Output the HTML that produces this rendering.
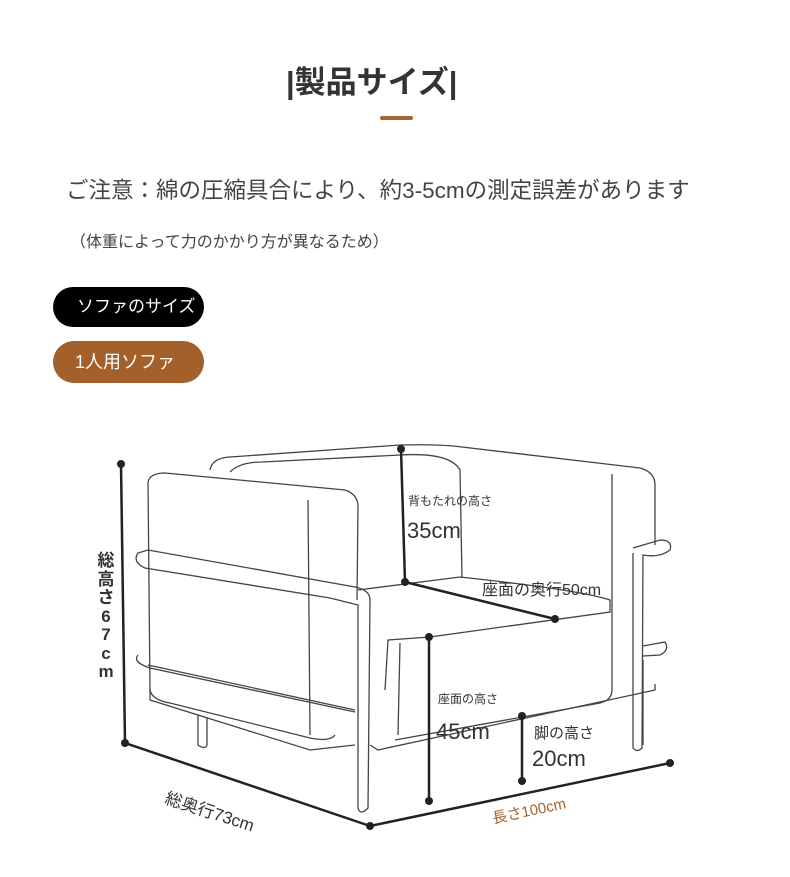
<!DOCTYPE html>
<html><head><meta charset="utf-8"><style>
body{margin:0;background:#fff;width:790px;height:877px;overflow:hidden;position:relative;font-family:"Liberation Sans","Noto Sans CJK JP",sans-serif;color:#333}
.a{position:absolute;white-space:nowrap}
</style></head><body>
<div class="a" style="left:286px;top:57px;font-size:31px;font-weight:bold;color:#333">|製品サイズ|</div>
<div class="a" style="left:380px;top:116px;width:33px;height:4px;background:#a8652f;border-radius:2px"></div>
<div class="a" style="left:66px;top:173px;font-size:22.5px;color:#444">ご注意：綿の圧縮具合により、約3-5cmの測定誤差があります</div>
<div class="a" style="left:70px;top:228px;font-size:16px;color:#444">（体重によって力のかかり方が異なるため）</div>
<div class="a" style="left:53px;top:287px;width:151px;height:40px;border-radius:20px;background:#000;color:#fff;font-size:17px;line-height:40px;"><span style="margin-left:24px">ソファのサイズ</span></div>
<div class="a" style="left:53px;top:341px;width:151px;height:42px;border-radius:21px;background:#a4602a;color:#fff;font-size:18px;line-height:42px;"><span style="margin-left:22px">1人用ソファ</span></div>
<svg class="a" style="left:0;top:0" width="790" height="877" fill="none" stroke="#444" stroke-width="1.3">
<path d="M210,470 Q212,458 230,457 L400,445 Q440,444 462,447 L640,468 Q655,472 655,485 L655,545"/>
<path d="M230,472 Q240,462 262,462 L400,455 Q450,452 460,470 L462,578"/>
<path d="M612,474 L612,612"/>
<path d="M148,482 Q150,473 165,473 L345,490 Q357,494 358,505 L357,600"/>
<path d="M148,482 L150,690 Q152,700 170,703 L310,738 Q330,742 335,735"/>
<path d="M308,500 L310,735"/>
<path d="M358,590 L460,577 Q580,590 610,600 L610,612 L430,637 L388,640 L385,690"/>
<path d="M400,643 L398,735 M612,612 L612,690 Q612,700 600,703 L395,740"/>
<path d="M138,553 Q132,562 145,568 L330,598 L358,605 L358,808 Q360,816 368,808 L370,600 Q370,590 355,587 L148,550 Z"/>
<path d="M138,655 Q132,662 150,668 L355,712"/>
<path d="M148,665 L355,710"/>
<path d="M150,690 L150,700 L310,750 L355,745"/>
<path d="M198,715 L198,745 Q205,750 207,745 L207,718"/>
<path d="M370,745 L378,750 L655,690 L655,684"/>
<path d="M633,553 L633,748 Q637,753 642,748 L643,555 Q660,558 670,550 Q673,540 660,540 L633,548"/>
<path d="M643,646 L665,642 Q670,650 660,655 L643,656"/>
<path d="M643,660 L643,745"/>
</svg>
<svg class="a" style="left:0;top:0" width="790" height="877" stroke="#222" stroke-width="2.5" fill="#222">
<line x1="121" y1="464" x2="125" y2="743"/><line x1="125" y1="743" x2="370" y2="826"/><line x1="370" y1="826" x2="670" y2="763"/>
<line x1="401" y1="449" x2="405" y2="582"/><line x1="405" y1="582" x2="555" y2="619"/>
<line x1="429" y1="637" x2="429" y2="801"/><line x1="522" y1="716" x2="522" y2="781"/>
<g stroke="none">
<circle cx="121" cy="464" r="4"/><circle cx="125" cy="743" r="4"/><circle cx="370" cy="826" r="4"/><circle cx="670" cy="763" r="4"/>
<circle cx="401" cy="449" r="4"/><circle cx="405" cy="582" r="4"/><circle cx="555" cy="619" r="4"/>
<circle cx="429" cy="637" r="4"/><circle cx="429" cy="801" r="4"/><circle cx="522" cy="716" r="4"/><circle cx="522" cy="781" r="4"/>
</g></svg>
<div class="a" style="left:408px;top:492px;font-size:12px">背もたれの高さ</div>
<div class="a" style="left:407px;top:518px;font-size:22px">35cm</div>
<div class="a" style="left:482px;top:576px;font-size:16px">座面の奥行50cm</div>
<div class="a" style="left:438px;top:690px;font-size:12px">座面の高さ</div>
<div class="a" style="left:436px;top:719px;font-size:22px">45cm</div>
<div class="a" style="left:534px;top:722px;font-size:15px">脚の高さ</div>
<div class="a" style="left:532px;top:746px;font-size:22px">20cm</div>
<div class="a" style="left:96px;top:552px;width:20px;font-size:17px;font-weight:bold;line-height:18.5px;text-align:center;white-space:normal">総高さ6 7 c m</div>
<div class="a" style="left:170px;top:784px;font-size:17px;transform:rotate(18deg);transform-origin:left top">総奥行73cm</div>
<div class="a" style="left:490px;top:808px;font-size:15px;color:#a4602a;transform:rotate(-12deg);transform-origin:left top">長さ100cm</div>
</body></html>
